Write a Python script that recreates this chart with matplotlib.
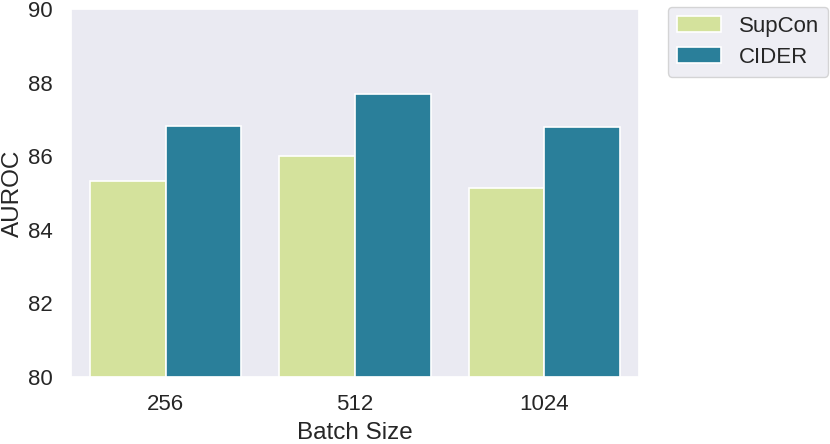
import matplotlib
matplotlib.use("Agg")
import matplotlib.pyplot as plt
import seaborn as sns
import numpy as np

batch_sizes = ["256", "512", "1024"]
supcon = [85.33, 86.01, 85.14]
cider = [86.83, 87.68, 86.78]
series_names = ["SupCon", "CIDER"]
colors = ["#d4e29c", "#2a7f9a"]

sns.set_theme(style="darkgrid")
plt.rcParams['font.family'] = ['Liberation Sans', 'DejaVu Sans']

fig = plt.figure(figsize=(8.3, 4.44), dpi=100)
ax = fig.add_axes([71/830, 1-377/444, (639-71)/830, (377-9)/444])
ax.grid(False)

x = np.arange(len(batch_sizes))
w = 0.4
ax.bar(x - w/2, supcon, w, color=colors[0], edgecolor="white", linewidth=1.2, label=series_names[0])
ax.bar(x + w/2, cider, w, color=colors[1], edgecolor="white", linewidth=1.2, label=series_names[1])

ax.set_xlim(-0.5, 2.5)
ax.set_ylim(80, 90)
ax.set_xticks(x)
ax.set_xticklabels(batch_sizes)
ax.set_yticks([80, 82, 84, 86, 88, 90])
ax.tick_params(axis="both", labelsize=16, colors="#262626", length=0)
ax.tick_params(axis="y", pad=13)
ax.tick_params(axis="x", pad=12)
ax.set_xlabel("Batch Size", fontsize=17.5, color="#262626")
ax.set_ylabel("AUROC", fontsize=17.5, color="#262626")
ax.xaxis.set_label_coords(0.5, -0.122)
ax.yaxis.set_label_coords(-0.0827, 0.5)

fig.legend(loc="upper left", bbox_to_anchor=(668/830, 1-7/444), fontsize=16,
           frameon=True, borderaxespad=0,
           handlelength=2.0, handleheight=0.7, handletextpad=0.8,
           borderpad=0.4, labelspacing=0.45)

fig.savefig("out.png", dpi=100)
